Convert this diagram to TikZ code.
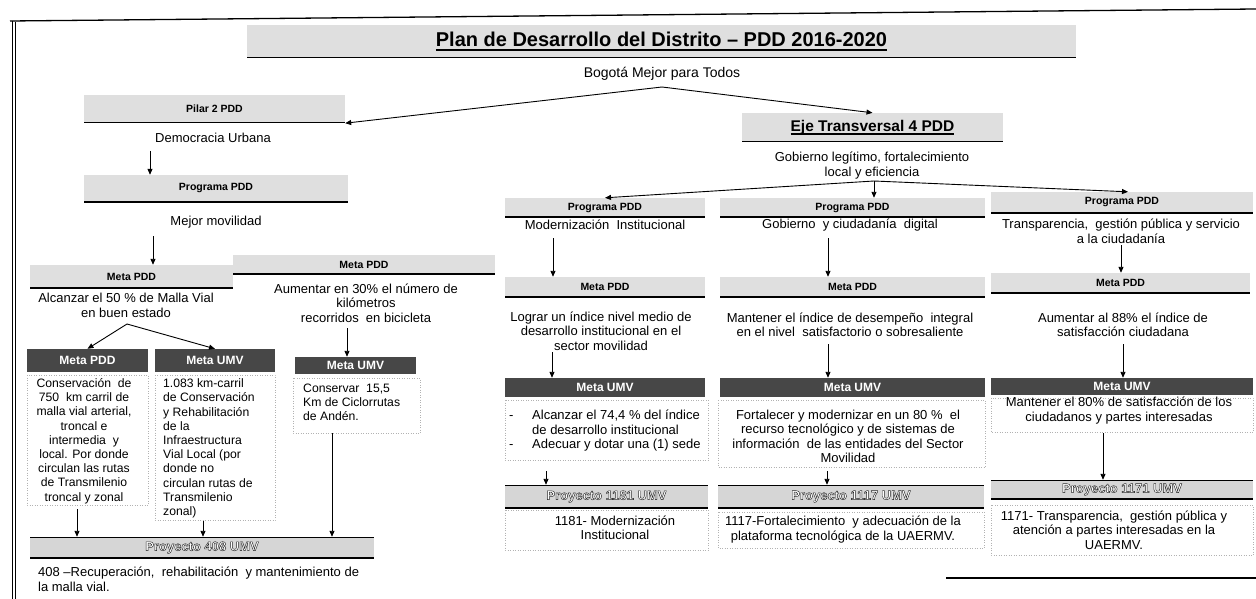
\documentclass[tikz,border=0pt]{standalone}
\usepackage{fontspec}
\setmainfont{Liberation Sans}
\usetikzlibrary{arrows.meta,calc}
\newcommand{\bodyfs}{\fontsize{13}{14.5}\selectfont}
\newcommand{\boxfs}{\fontsize{12.2}{14.2}\selectfont}
\newcommand{\lbarfs}{\fontsize{10.5}{12}\selectfont\bfseries}
\newcommand{\dbarfs}{\fontsize{12}{13}\selectfont\bfseries}
\newcommand{\pbarfs}{\fontsize{13}{14}\selectfont\bfseries}
\newcommand{\titlefs}{\fontsize{20}{24}\selectfont\bfseries}
\newcommand{\ejefs}{\fontsize{15.5}{18}\selectfont\bfseries}
\newcommand{\outl}[1]{{\special{pdf:literal direct 2 Tr 0.45 w 0.15 G}#1\special{pdf:literal direct 0 Tr 0.4 w}}}
\newcommand{\thickul}[3]{\setbox0\hbox{#3}\rlap{\rule[-#2]{\wd0}{#1}}\box0}
\begin{document}
\begin{tikzpicture}[x=1pt,y=-1pt,
  lbar/.style={fill=gray!25, inner sep=0pt, font=\lbarfs,
    path picture={\draw[black,line width=1.6pt] (path picture bounding box.south west) -- (path picture bounding box.south east);}},
  dbar/.style={fill=black!72, text=white, inner sep=0pt, font=\dbarfs},
  pbar/.style={fill=gray!32, text=white, inner sep=0pt, font=\pbarfs,
    path picture={\draw[black,line width=1.6pt] (path picture bounding box.south west) -- (path picture bounding box.south east);
                  \draw[black,line width=1.2pt] (path picture bounding box.north west) -- (path picture bounding box.north east);}},
  body/.style={font=\bodyfs, align=center, inner sep=0pt},
  bx/.style={font=\boxfs, align=center, inner sep=0pt},
  bxl/.style={font=\boxfs, align=left, inner sep=0pt, anchor=west},
  dbox/.style={draw=gray!60, dotted, line width=0.5pt},
  arr/.style={-{Triangle[length=6pt,width=5pt]}, line width=0.9pt},
  frame/.style={line width=1.3pt}
]
\useasboundingbox (0,0) rectangle (1256,599);
\fill[white] (0,0) rectangle (1256,599);

% frame
\coordinate (ftl) at (10,21);
\coordinate (ftr) at (1256,9);
\coordinate (fbl) at (12.5,599);
\coordinate (fbr1) at (946,578);
\coordinate (fbr2) at (1256,578);
\draw[frame] (ftl) -- (ftr);
\draw[frame] (12.5,21) -- (fbl);
\draw[line width=0.8pt] (15.8,22) -- (15.8,599);
\draw[frame] (fbr1) -- (fbr2);

% dotted text frames
\draw[dbox] (27,375) rectangle (148,505);
\draw[dbox] (155,375) rectangle (275,520);
\draw[dbox] (293,378) rectangle (420,433);
\draw[dbox] (505,400) rectangle (708,460);
\draw[dbox] (718,400) rectangle (985,467);
\draw[dbox] (991,398) rectangle (1253,432);
\draw[dbox] (505,510) rectangle (708,550);
\draw[dbox] (718,512) rectangle (984,548);
\draw[dbox] (991,505) rectangle (1253,555);

% title
\node[lbar, font=\titlefs, minimum width=829pt, minimum height=33pt] (title) at (661.5,41.5)
  {\thickul{1.8pt}{4pt}{Plan de Desarrollo del Distrito – PDD 2016-2020}};
\node[body, font=\fontsize{14}{16}\selectfont] (bogota) at (662,74) {Bogotá Mejor para Todos};
\coordinate (apex) at (662,87);

% left branch
\node[lbar, minimum width=261pt, minimum height=28pt] (pilar) at (214.5,109) {Pilar 2 PDD};
\node[body] (democ) at (213,138) {Democracia Urbana};
\node[lbar, minimum width=264pt, minimum height=27pt] (prog1) at (216,188.5) {Programa PDD};
\node[body] (mejor) at (216,222) {Mejor movilidad};
\node[lbar, minimum width=203pt, minimum height=23pt] (metaA) at (131.5,276.5) {Meta PDD};
\node[body] (alc) at (126,305.5) {Alcanzar el 50 \% de Malla Vial\\en buen estado};
\node[lbar, minimum width=262pt, minimum height=19pt] (metaB) at (364,264.5) {Meta PDD};
\node[body] (aum) at (366,303) {Aumentar en 30\% el número de\\kilómetros\\recorridos\ \ en bicicleta};
\node[dbar, minimum width=121pt, minimum height=23pt] (dmp) at (87.5,360.5) {Meta PDD};
\node[dbar, minimum width=120pt, minimum height=23pt] (dmu) at (215,360.5) {Meta UMV};
\node[dbar, minimum width=121pt, minimum height=17pt] (dmu2) at (355.5,365.5) {Meta UMV};
\node[bx] (consA) at (84,441) {Conservación\ \ de\\750\ \ km carril de\\malla vial arterial,\\troncal e\\intermedia\ \ y\\local. Por donde\\circulan las rutas\\de Transmilenio\\troncal y zonal};
\node[bxl] (consB) at (163,448.5) {1.083 km-carril\\de Conservación\\y Rehabilitación\\de la\\Infraestructura\\Vial Local (por\\donde no\\circulan rutas de\\Transmilenio\\zonal)};
\node[bxl] (cons15) at (303,402.5) {Conservar\ \ 15,5\\Km de Ciclorrutas\\de Andén.};
\node[pbar, minimum width=344pt, minimum height=21pt] (p408) at (202,547.5) {\outl{Proyecto 408 UMV}};
\node[bxl, font=\bodyfs] (t408) at (38,579.5) {408 –Recuperación,\ \ rehabilitación\ \ y mantenimiento de\\la malla vial.};

% right branch
\node[lbar, font=\ejefs, minimum width=261pt, minimum height=29pt] (eje) at (872.5,127.5) {\thickul{1.4pt}{3pt}{Eje Transversal 4 PDD}};
\node[body] (gob) at (872,165.5) {Gobierno legítimo,\ fortalecimiento\\local y eficiencia};
\coordinate (gapex) at (874,181);

\node[lbar, minimum width=200pt, minimum height=19pt] (pc1) at (605,207.5) {Programa PDD};
\node[lbar, minimum width=265pt, minimum height=19pt] (pc2) at (852.5,207.5) {Programa PDD};
\node[lbar, minimum width=262pt, minimum height=21pt] (pc3) at (1122,202.5) {Programa PDD};
\node[body] (mod) at (605,225) {Modernización\ \ Institucional};
\node[body] (gobdig) at (850,225) {Gobierno\ \ y ciudadanía\ \ digital};
\node[body] (transp) at (1121,231.5) {Transparencia,\ \ gestión pública y servicio\\a la ciudadanía};

\node[lbar, minimum width=200pt, minimum height=20pt] (mp1) at (605,287) {Meta PDD};
\node[lbar, minimum width=265pt, minimum height=20pt] (mp2) at (852.5,287) {Meta PDD};
\node[lbar, minimum width=259pt, minimum height=20pt] (mp3) at (1120.5,283) {Meta PDD};
\node[body] (lograr) at (601,331) {Lograr un índice nivel medio de\\desarrollo institucional en el\\sector movilidad};
\node[body] (mant) at (850,325) {Mantener el índice de desempeño\ \ integral\\en el nivel\ \ satisfactorio o sobresaliente};
\node[body] (aum88) at (1123,325) {Aumentar al 88\% el índice de\\satisfacción ciudadana};

\node[dbar, minimum width=200pt, minimum height=19pt] (mu1) at (605,387.5) {Meta UMV};
\node[dbar, minimum width=265pt, minimum height=19pt] (mu2) at (852.5,387.5) {Meta UMV};
\node[dbar, minimum width=262pt, minimum height=17pt] (mu3) at (1122,386.5) {Meta UMV};
\node[body, align=left, anchor=west] (bul) at (509,431) {\makebox[23pt][l]{-}Alcanzar el 74,4 \% del índice\\\hspace*{23pt}de desarrollo institucional\\\makebox[23pt][l]{-}Adecuar y dotar una (1) sede};
\node[body] (fort) at (848,436.5) {Fortalecer y modernizar en un 80 \%\ \ el\\recurso tecnológico y de sistemas de\\información\ \ de las entidades del Sector\\Movilidad};
\node[body] (mant80) at (1119,410.5) {Mantener el 80\% de satisfacción de los\\ciudadanos y partes interesadas};

\node[pbar, minimum width=203pt, minimum height=23pt] (pr1) at (606.5,496.5) {\outl{Proyecto 1181 UMV}};
\node[pbar, minimum width=266pt, minimum height=23pt] (pr2) at (851,496.5) {\outl{Proyecto 1117 UMV}};
\node[pbar, minimum width=262pt, minimum height=19pt] (pr3) at (1122,489.5) {\outl{Proyecto 1171 UMV}};
\node[body] (t1181) at (615,528) {1181- Modernización\\Institucional};
\node[body] (t1117) at (843,529.5) {1117-Fortalecimiento\ \ y adecuación de la\\plataforma tecnológica de la UAERMV.};
\node[body] (t1171) at (1114,530) {1171- Transparencia,\ \ gestión pública y\\atención a partes interesadas en la\\UAERMV.};

% connectors
\draw[arr] (apex) -- (pilar.south east);
\draw[arr] (apex) -- (eje.north);
\coordinate (d1) at (150,151);
\draw[arr] (d1) -- (d1 |- prog1.north);
\coordinate (d2) at (153,236);
\draw[arr] (d2) -- (d2 |- metaA.north);
\coordinate (d3) at (127,324);
\draw[arr] (d3) -- (dmp.north);
\draw[arr] (d3) -- (dmu.north);
\coordinate (d4) at (347,328);
\draw[arr] (d4) -- (d4 |- dmu2.north);
\coordinate (d5) at (77,509);
\draw[arr] (d5) -- (d5 |- p408.north);
\coordinate (d6) at (203,521);
\draw[arr] (d6) -- (d6 |- p408.north);
\coordinate (d7) at (332,433);
\draw[arr] (d7) -- (d7 |- p408.north);

\draw[arr] (gapex) -- (pc1.north);
\draw[arr] (gapex) -- (gapex |- pc2.north);
\draw[arr] (gapex) -- ([xshift=6pt]pc3.north);
\coordinate (c1a) at (553,238);
\draw[arr] (c1a) -- (c1a |- mp1.north);
\coordinate (c1b) at (552,352);
\draw[arr] (c1b) -- (c1b |- mu1.north);
\coordinate (c1c) at (546,471);
\draw[arr] (c1c) -- (c1c |- pr1.north);
\coordinate (c2a) at (828,238);
\draw[arr] (c2a) -- (c2a |- mp2.north);
\coordinate (c2b) at (828,344);
\draw[arr] (c2b) -- (c2b |- mu2.north);
\coordinate (c2c) at (827,471);
\draw[arr] (c2c) -- (c2c |- pr2.north);
\coordinate (c3a) at (1121,245);
\draw[arr] (c3a) -- (c3a |- mp3.north);
\coordinate (c3b) at (1123,344);
\draw[arr] (c3b) -- (c3b |- mu3.north);
\coordinate (c3c) at (1103,433);
\draw[arr] (c3c) -- (c3c |- pr3.north);
\end{tikzpicture}
\end{document}
